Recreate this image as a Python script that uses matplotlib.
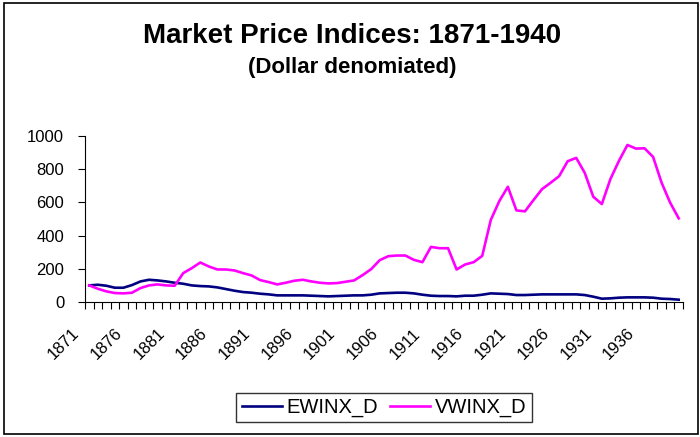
import numpy as np
import matplotlib.pyplot as plt
from matplotlib.patches import Rectangle
from matplotlib import transforms

plt.rcParams['font.family'] = ['Liberation Sans', 'DejaVu Sans']

years = list(range(1871, 1941))

ewinx = [100, 104, 98, 86, 86, 102, 124, 134, 130, 124,
         116, 110, 100, 96, 94, 88, 78, 68, 60, 56,
         50, 46, 40, 40, 40, 40, 38, 36, 34, 36,
         38, 40, 40, 44, 52, 54, 56, 56, 52, 44,
         38, 36, 36, 34, 38, 38, 44, 52, 50, 48,
         42, 42, 44, 46, 46, 46, 46, 46, 42, 32,
         20, 22, 26, 28, 28, 28, 26, 20, 18, 14]

vwinx = [100, 80, 64, 54, 52, 56, 84, 100, 106, 100,
         98, 174, 204, 238, 214, 196, 196, 190, 174, 160,
         132, 120, 106, 116, 128, 134, 124, 116, 112, 114,
         122, 130, 162, 198, 252, 276, 280, 280, 254, 240,
         332, 324, 324, 196, 226, 240, 278, 494, 608, 694,
         552, 546, 614, 680, 718, 758, 848, 868, 778, 634,
         590, 740, 850, 946, 924, 926, 874, 718, 598, 504]

fig = plt.figure(figsize=(7, 4.37), dpi=100)
ax = fig.add_axes([0.1214, 0.3089, 0.8543, 0.3799])

x = np.arange(len(years))
ax.plot(x, ewinx, color='#000080', lw=1.9, label='EWINX_D')
ax.plot(x, vwinx, color='#FF00FF', lw=1.9, label='VWINX_D')

ax.set_xlim(-0.5, len(years) - 0.5)
ax.set_ylim(0, 1000)
ax.set_yticks(range(0, 1001, 200))
ax.tick_params(axis='y', labelsize=12, length=5, direction='out', pad=10)

# tick marks at category boundaries
ax.set_xticks(np.arange(-0.5, len(years), 1))
ax.set_xticklabels([])
ax.tick_params(axis='x', length=5, direction='out')

# year labels every 5 years, rotated like excel
trans = transforms.blended_transform_factory(ax.transData, ax.transAxes)
trans = transforms.offset_copy(trans, fig=fig, x=-25.5, y=-42, units='dots')
for i in x[::5]:
    ax.text(i, 0, str(years[i]), transform=trans, rotation=45,
            ha='center', va='center', fontsize=12)

ax.spines['top'].set_visible(False)
ax.spines['right'].set_visible(False)

fig.text(0.503, 1 - 43 / 437, 'Market Price Indices: 1871-1940', ha='center',
         va='baseline', fontsize=20, fontweight='bold')
fig.text(0.503, 1 - 73 / 437, '(Dollar denomiated)', ha='center', va='baseline',
         fontsize=16, fontweight='bold')

fig.legend(loc='center', bbox_to_anchor=(384 / 700, 1 - 407.5 / 437), ncol=2,
           fontsize=14.5, frameon=True, fancybox=False, edgecolor='black',
           handlelength=2.0, handletextpad=0.25, columnspacing=0.55,
           borderpad=0.25, borderaxespad=0)

fig.patches.append(Rectangle((4 / 700, 3 / 437), 694 / 700, 431 / 437,
                             transform=fig.transFigure, fill=False,
                             edgecolor='black', lw=1.2))

plt.savefig('out.png', dpi=100)
